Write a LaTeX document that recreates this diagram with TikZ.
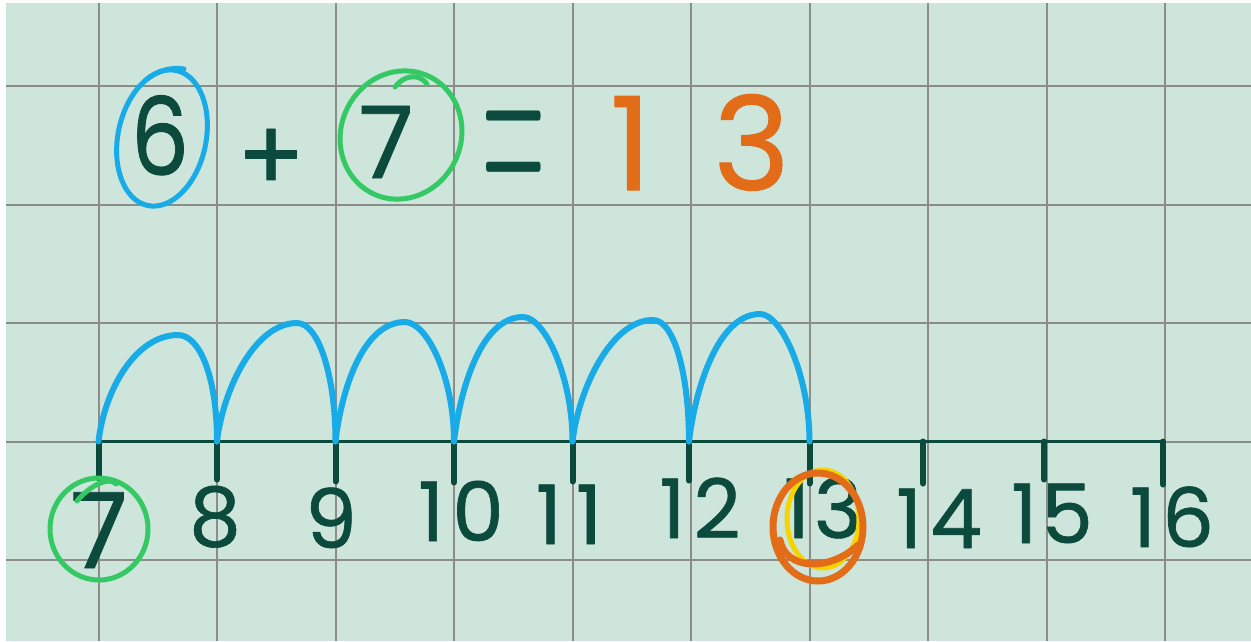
\documentclass[tikz,border=0pt]{standalone}
\usepackage{fontspec}
\setmainfont{Poppins}[FakeBold=0.8]
\newfontfamily\lmfont{Latin Modern Roman}
\definecolor{bg}{HTML}{CDE5DA}
\definecolor{gridc}{HTML}{8C8C88}
\definecolor{ink}{HTML}{0B4A3C}
\definecolor{hblue}{HTML}{18ABE8}
\definecolor{hgreen}{HTML}{35C965}
\definecolor{horange}{HTML}{E26C18}
\definecolor{hyellow}{HTML}{F7D400}
\begin{document}
\begin{tikzpicture}[x=1pt,y=1pt,line join=round,
  gridline/.style={gridc,line width=2pt},
  numline/.style={ink,line width=3.5pt},
  tickmark/.style={ink,line width=6pt,line cap=round},
  jump/.style={hblue,line width=6pt,line cap=round},
  ring/.style={line width=5pt,line cap=round},
  num/.style={ink,inner sep=0pt,anchor=base,font=\fontsize{82}{82}\selectfont},
  big/.style={inner sep=0pt,anchor=base,font=\fontsize{110}{110}\selectfont}]
\useasboundingbox (0,0) rectangle (1251,-641);
\fill[white] (0,0) rectangle (1251,-641);
\fill[bg] (6,-3) rectangle (1251,-641);
% grid
\foreach \x in {98.5,217,335.5,454,572.5,691,809.5,928,1046.5,1165}
  \draw[gridline] (\x,-3) -- (\x,-641);
\foreach \y in {86,204.5,323,441.5,560}
  \draw[gridline] (6,-\y) -- (1251,-\y);
% number line points
\coordinate (p7)  at (98.5,-441.5);
\coordinate (p8)  at (217,-441.5);
\coordinate (p9)  at (335.5,-441.5);
\coordinate (p10) at (454,-441.5);
\coordinate (p11) at (572.5,-441.5);
\coordinate (p12) at (689,-441.5);
\coordinate (p13) at (809.5,-441.5);
\coordinate (p14) at (923,-441.5);
\coordinate (p15) at (1044,-441.5);
\coordinate (p16) at (1163,-441.5);
\draw[numline] (p7) -- (p16);
\foreach \p/\l in {p7/37,p8/38,p9/40,p10/41,p11/40,p12/39,p13/42,p14/42,p15/38,p16/43}
  \draw[tickmark] (\p) -- ++(0,-\l);
% jump peaks
\coordinate (k1) at (178,-335);
\coordinate (k2) at (297,-323);
\coordinate (k3) at (405,-322);
\coordinate (k4) at (523,-317);
\coordinate (k5) at (653,-320);
\coordinate (k6) at (760,-314);
\foreach \s/\e/\k in {p7/p8/k1,p8/p9/k2,p9/p10/k3,p10/p11/k4,p11/p12/k5,p12/p13/k6}
  \draw[jump] (\s) .. controls +(6,52) and +(-42,0) .. (\k)
                   .. controls +(22,0) and +(0,64) .. (\e);
% number labels
\node[num,font=\fontsize{105}{105}\selectfont] (n7) at (99,-568) {7};
\node[num] (n8)  at (215,-546) {8};
\node[num] (n9)  at (331,-548) {9};
\node[num] (n10) at (461,-541) {1\kern8pt 0};
\node[num] (n11) at (569,-544) {1\kern14pt 1};
\node[num] (n12) at (700,-538) {1\kern8pt 2};
\node[num] (n13) at (823,-538) {1\kern4pt 3};
\node[num] (n14) at (939,-548) {1\kern8pt 4};
\node[num] (n15) at (1052,-543) {1\kern4pt 5};
\node[num] (n16) at (1172,-547) {1\kern6pt 6};
% equation
\node[ink,inner sep=0pt,anchor=base,font=\fontsize{108}{108}\selectfont] (e6) at (160,-175) {\scalebox{0.85}[1]{6}};
\node[ink,inner sep=0pt,font=\fontsize{100}{100}\selectfont] (eplus) at (271,-160) {+};
\node[big,ink,font=\fontsize{100}{100}\selectfont] (e7) at (386,-178) {7};
\node[ink,inner sep=0pt,font=\lmfont\fontsize{60}{60}\selectfont] (eeq) at (514,-162) {\scalebox{1.45}[4.8]{=}};
\node[big,horange,font=\fontsize{130}{130}\selectfont] (e13) at (700,-190) {1\kern62pt 3};
% rings
\draw[ring,hblue] (162,-138) ellipse[x radius=44,y radius=69,rotate=-12];
\draw[ring,hblue] (146,-80) .. controls (158,-70) and (172,-67) .. (184,-69);
\draw[ring,hgreen] (401,-135) ellipse[x radius=60,y radius=65,rotate=-25];
\draw[ring,hgreen] (395,-87) .. controls (403,-76) and (418,-72) .. (427,-84);
\draw[ring,hgreen] (99,-529) ellipse[x radius=49,y radius=51];
\draw[ring,hgreen] (77,-501) .. controls (90,-485) and (110,-476) .. (116,-484);
\draw[ring,hyellow,line width=5pt] (823,-519) ellipse[x radius=36,y radius=49];
\draw[ring,horange,line width=7pt] (818,-527) ellipse[x radius=45,y radius=54];
\draw[ring,horange,line width=7pt] (780,-540) .. controls (785,-570) and (830,-572) .. (858,-545);
\end{tikzpicture}
\end{document}
